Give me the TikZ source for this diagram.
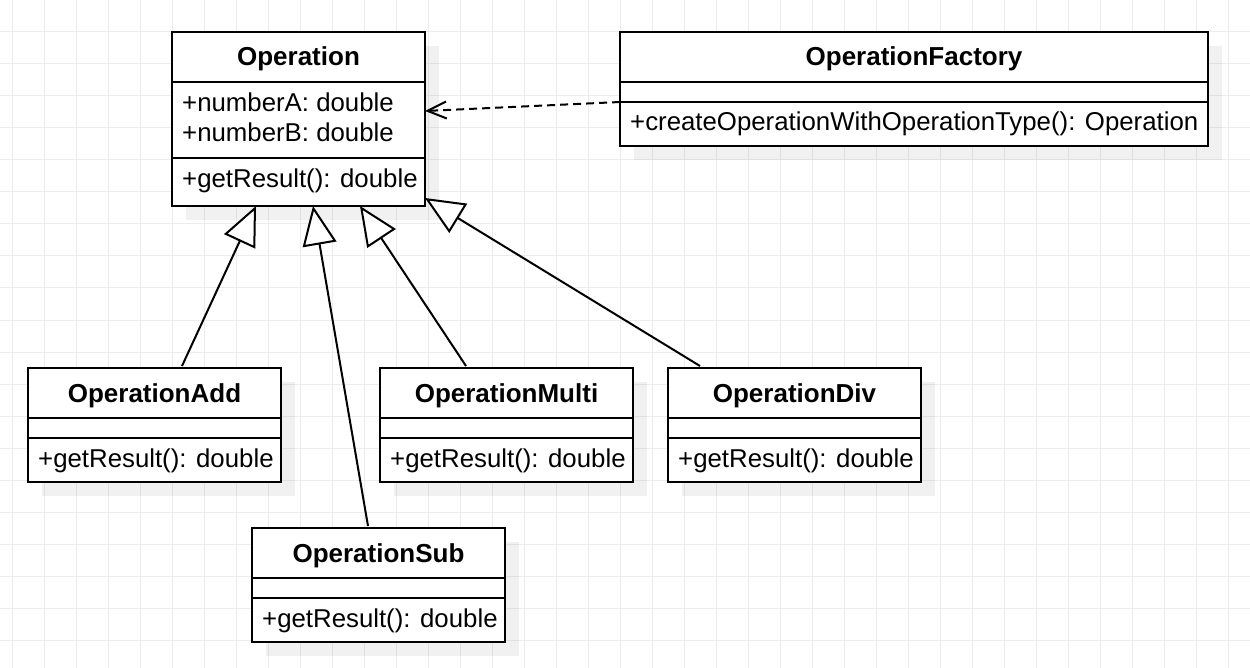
\documentclass[tikz,border=0pt]{standalone}
\usepackage{fontspec}
\setmainfont{Liberation Sans}
\usetikzlibrary{arrows.meta,shadows,calc}
\definecolor{gridc}{RGB}{236,236,236}
\begin{document}
\begin{tikzpicture}[x=1pt,y=-1pt,
  gridline/.style={draw=gridc,line width=1pt},
  cls/.style={draw=black,line width=2pt,fill=white,anchor=north west,inner sep=0pt,outer sep=0pt,
    minimum width=253pt,minimum height=114pt,
    drop shadow={shadow xshift=14pt,shadow yshift=-14pt,fill=black,opacity=0.055}},
  divider/.style={draw=black,line width=2pt},
  ctitle/.style={anchor=base,inner sep=0pt,font=\fontsize{26pt}{30pt}\selectfont\bfseries},
  cmember/.style={anchor=base west,inner sep=0pt,font=\fontsize{25.8pt}{30pt}\selectfont},
  gen/.style={draw=black,line width=2pt,-{Triangle[open,length=39pt,width=34pt,fill=white]}},
  dep/.style={draw=black,line width=2pt,dash pattern=on 8pt off 5pt,-{Straight Barb[length=19pt,width=17pt]}}
]
\useasboundingbox (0,0) rectangle (1250,668);
\fill[white] (0,0) rectangle (1250,668);
\foreach \gx in {12,44,...,1250} \draw[gridline] (\gx,0) -- (\gx,668);
\foreach \gy in {0,32,...,668} \draw[gridline] (0,\gy) -- (1250,\gy);

% Operation
\node[cls,minimum height=174pt] (op) at (172,32) {};
\draw[divider] ([yshift=-50pt]op.north west) -- ([yshift=-50pt]op.north east);
\draw[divider] ([yshift=-126pt]op.north west) -- ([yshift=-126pt]op.north east);
\node[ctitle] (opt) at ([yshift=-34pt]op.north) {Operation};
\node[cmember] (opa) at ([xshift=10pt,yshift=-80pt]op.north west) {+numberA: double};
\node[cmember] (opb) at ([xshift=10pt,yshift=-110pt]op.north west) {+numberB: double};
\node[cmember] (opm) at ([xshift=10pt,yshift=-156pt]op.north west) {+getResult(): double};

% OperationFactory
\node[cls,minimum width=588pt] (fac) at (620,32) {};
\draw[divider] ([yshift=-50pt]fac.north west) -- ([yshift=-50pt]fac.north east);
\draw[divider] ([yshift=-70pt]fac.north west) -- ([yshift=-70pt]fac.north east);
\node[ctitle] (fact) at ([yshift=-34pt]fac.north) {OperationFactory};
\node[cmember] (facm) at ([xshift=10pt,yshift=-99pt]fac.north west) {+createOperationWithOperationType(): Operation};

% OperationAdd
\node[cls] (add) at (28,368) {};
\draw[divider] ([yshift=-50pt]add.north west) -- ([yshift=-50pt]add.north east);
\draw[divider] ([yshift=-70pt]add.north west) -- ([yshift=-70pt]add.north east);
\node[ctitle] (addt) at ([yshift=-34pt]add.north) {OperationAdd};
\node[cmember] (addm) at ([xshift=10pt,yshift=-99pt]add.north west) {+getResult(): double};

% OperationMulti
\node[cls] (mul) at (380,368) {};
\draw[divider] ([yshift=-50pt]mul.north west) -- ([yshift=-50pt]mul.north east);
\draw[divider] ([yshift=-70pt]mul.north west) -- ([yshift=-70pt]mul.north east);
\node[ctitle] (mult) at ([yshift=-34pt]mul.north) {OperationMulti};
\node[cmember] (mulm) at ([xshift=10pt,yshift=-99pt]mul.north west) {+getResult(): double};

% OperationDiv
\node[cls] (div) at (668,368) {};
\draw[divider] ([yshift=-50pt]div.north west) -- ([yshift=-50pt]div.north east);
\draw[divider] ([yshift=-70pt]div.north west) -- ([yshift=-70pt]div.north east);
\node[ctitle] (divt) at ([yshift=-34pt]div.north) {OperationDiv};
\node[cmember] (divm) at ([xshift=10pt,yshift=-99pt]div.north west) {+getResult(): double};

% OperationSub
\node[cls] (sub) at (252,528) {};
\draw[divider] ([yshift=-50pt]sub.north west) -- ([yshift=-50pt]sub.north east);
\draw[divider] ([yshift=-70pt]sub.north west) -- ([yshift=-70pt]sub.north east);
\node[ctitle] (subt) at ([yshift=-34pt]sub.north) {OperationSub};
\node[cmember] (subm) at ([xshift=10pt,yshift=-99pt]sub.north west) {+getResult(): double};

% connectors
\draw[gen] ([xshift=154pt,yshift=2pt]add.north west) -- ([xshift=84pt]op.south west);
\draw[gen] ([xshift=116pt,yshift=2pt]sub.north west) -- ([xshift=141pt]op.south west);
\draw[gen] ([xshift=86pt,yshift=2pt]mul.north west) -- ([xshift=188pt]op.south west);
\draw[gen] ([xshift=32pt,yshift=2pt]div.north west) -- ([yshift=8pt]op.south east);
\draw[dep] ([yshift=-70pt]fac.north west) -- ([yshift=-79pt]op.north east);
\end{tikzpicture}
\end{document}
